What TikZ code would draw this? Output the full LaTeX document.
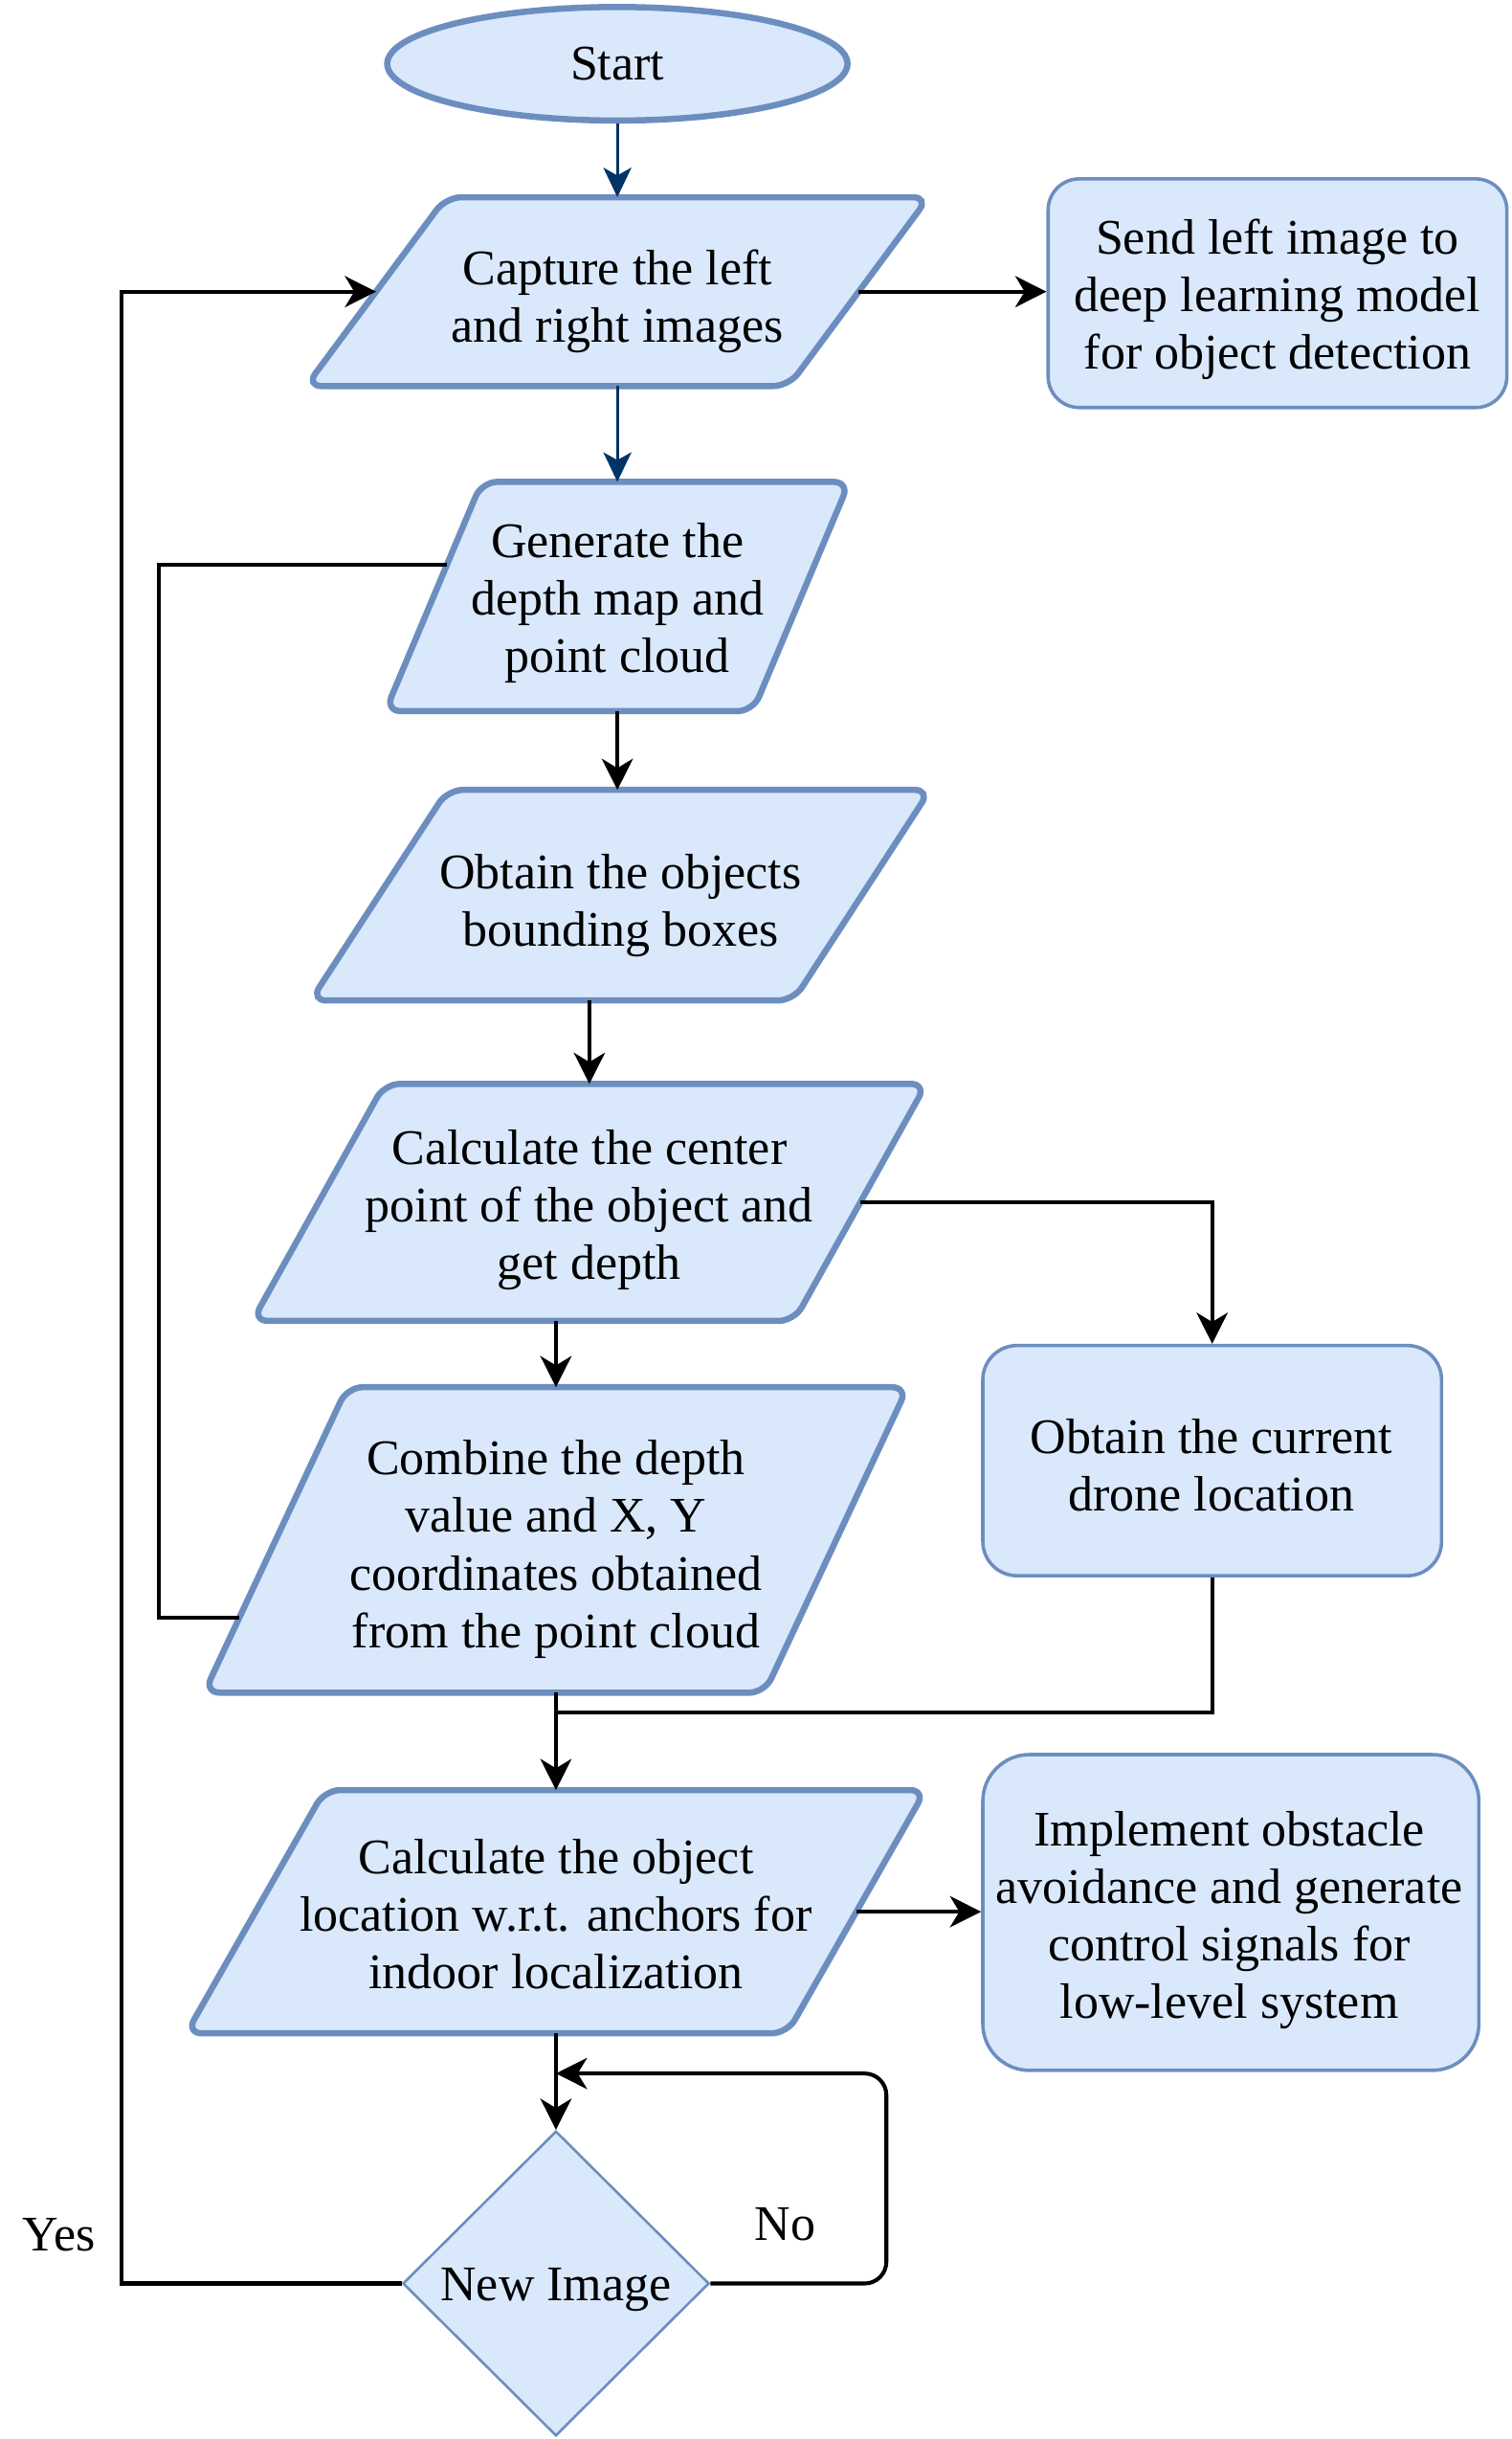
\documentclass[tikz,border=0pt]{standalone}
\usepackage{fontspec}
\setmainfont{Liberation Serif}
\usetikzlibrary{shapes.geometric,arrows.meta,backgrounds,calc}
\definecolor{boxfill}{HTML}{DAE8FC}
\definecolor{boxline}{HTML}{6C8EBF}
\definecolor{navy}{HTML}{003366}
\tikzset{
  txt/.style={font=\fontsize{32}{37}\selectfont, align=center, text=black, inner sep=0pt},
  anchorbox/.style={shape=rectangle, inner sep=0pt},
  parabox/.style={fill=boxfill, draw=boxline, line width=4pt, rounded corners=10pt},
  roundbox/.style={shape=rectangle, fill=boxfill, draw=boxline, line width=2.2pt, inner sep=0pt},
  startbox/.style={txt, shape=ellipse, fill=boxfill, draw=boxline, line width=4pt, inner sep=0pt},
  decision/.style={shape=diamond, fill=boxfill, draw=boxline, line width=1.6pt, inner sep=0pt},
  conn/.style={line width=2.5pt, draw=black, -{Stealth[length=20pt,width=20pt,inset=6pt]}},
  plainconn/.style={line width=2.5pt, draw=black},
  blueconn/.style={line width=1.8pt, draw=navy, -{Stealth[length=19pt,width=18pt,inset=5pt]}},
  lbl/.style={txt}
}
% name, x, y, width, height, half skew, text y, text
\newcommand{\paranode}[8]{%
  \node[anchorbox, minimum width=#4, minimum height=#5] (#1) at (#2,#3) {};
  \begin{scope}[on background layer]
    \path[parabox] (#1.north) -- ([xshift=#6]#1.north east) -- ([xshift=-#6]#1.south east) -- ([xshift=-#6]#1.south west) -- ([xshift=#6]#1.north west) -- cycle;
  \end{scope}
  \node[txt] (#1-text) at (#2,#7) {#8};}
\begin{document}
\begin{tikzpicture}[x=1pt,y=-1pt]
\useasboundingbox (0,0) rectangle (972,1568);

% nodes
\node[startbox, minimum width=296, minimum height=73] (start) at (397,41) {Start};
\paranode{cap}{397}{187.5}{310}{121}{45}{193.5}{Capture the left\\and right images}
\node[roundbox, rounded corners=20pt, minimum width=295, minimum height=147] (send) at (821.5,188.5) {};
\node[txt] (send-text) at (821.5,192.5) {Send left image to\\deep learning model\\for object detection};
\paranode{gen}{397}{383.5}{236}{147}{31}{387.5}{Generate the\\depth map and\\point cloud}
\paranode{bb}{399}{575.5}{310}{135}{44}{582}{Obtain the objects\\bounding boxes}
\paranode{calc}{379}{773}{348}{152}{42.5}{778}{Calculate the center\\point of the object and\\get depth}
\node[roundbox, rounded corners=22pt, minimum width=295, minimum height=148] (drone) at (779.5,939) {};
\node[txt] (drone-text) at (779,942) {Obtain the current\\drone location};
\paranode{comb}{357.5}{990}{360}{196}{46}{996}{Combine the depth\\value and X, Y\\coordinates obtained\\from the point cloud}
\paranode{loc}{357.5}{1229}{386}{156}{44.5}{1230.5}{Calculate the object\\location w.r.t. anchors for\\indoor localization}
\node[roundbox, rounded corners=30pt, minimum width=319, minimum height=203] (impl) at (791.5,1229.5) {};
\node[txt] (impl-text) at (790.5,1234.5) {Implement obstacle\\avoidance and generate\\control signals for\\low-level system};
\node[decision, minimum width=197, minimum height=196] (dia) at (357.5,1468) {};
\node[txt] (dia-text) at (357.5,1472) {New Image};

\node[lbl] (yes) at (38,1437) {Yes};
\node[lbl] (no) at (505,1430) {No};

% connectors
\draw[blueconn] (start) -- (cap);
\draw[blueconn] (cap) -- (gen);
\draw[conn] (cap.east) -- (cap.east -| send.west);
\draw[conn] (dia.west) -- (78,1468) -- (78,187.5) -- (cap.west);
\draw[conn] (gen) -- (gen |- bb.north);
\draw[plainconn] ($(gen.west)+(8.6,-20.5)$) -- (102,363) -- (102,1040) -- ($(comb.west)+(-23.5,50)$);
\draw[conn] (calc.north |- bb.south) -- (calc.north);
\draw[conn] (calc.east) -- (drone.north |- calc.east) -- (drone.north);
\draw[conn] (comb.north |- calc.south) -- (comb.north);
\coordinate (join) at ($(loc.north)+(0,-50)$);
\draw[plainconn] (drone.south) -- (drone.south |- join) -- (join);
\draw[conn] (comb.south) -- (loc.north);
\draw[conn] (loc.east) -- (loc.east -| impl.west);
\draw[conn] (loc.south) -- (dia.north);
\coordinate (noin) at (dia.north |- 0,1333);
\draw[conn, rounded corners=14pt] (dia.east) -- (570,1468) -- (570,1333) -- (noin);
\end{tikzpicture}
\end{document}
